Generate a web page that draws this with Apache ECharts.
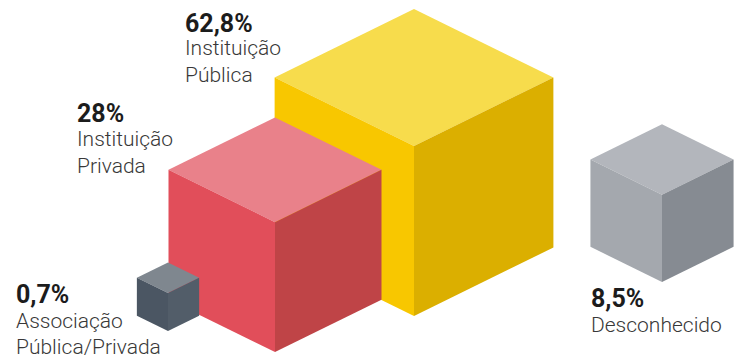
<!DOCTYPE html>
<html>
<head>
<meta charset="utf-8">
<script src="https://cdn.jsdelivr.net/npm/echarts@6/dist/echarts.min.js"></script>
<style>
html,body{margin:0;padding:0;background:#fff;}
#chart{width:735px;height:361px;}
</style>
</head>
<body>
<div id="chart"></div>
<script>
// ---- data ----
const categories = ['Instituição Pública', 'Instituição Privada', 'Associação Pública/Privada', 'Desconhecido'];
const values = [62.8, 28, 0.7, 8.5];
const valueLabels = ['62,8%', '28%', '0,7%', '8,5%'];
const nameLines = [['Instituição', 'Pública'], ['Instituição', 'Privada'], ['Associação', 'Pública/Privada'], ['Desconhecido']];

// ---- layout (positions in axis units, kept apart from data) ----
const cubeAnchors = [[414, 316], [275, 352], [168, 331], [662, 282]]; // front-bottom vertex
const labelAnchors = [[185, 23], [77, 113], [16, 294], [591, 298]];
const nameLineY = [[48, 75], [139, 166], [321, 347], [325]];
const EDGE_PER_CBRT = 42.77; // cube volume ∝ value
const palette = [
  {top: '#F7DC4C', left: '#F8C700', right: '#DBAF00'},
  {top: '#E9818A', left: '#E14E5A', right: '#BF4447'},
  {top: '#7F878F', left: '#4B5663', right: '#525D69'},
  {top: '#B3B6BC', left: '#A4A8AE', right: '#868B92'}
];

const chart = echarts.init(document.getElementById('chart'), null, {renderer: 'svg'});

function renderItem(params, api) {
  const i = api.value(0);
  const v = values[i];
  const base = api.coord(cubeAnchors[i]);
  const s = api.size([0, EDGE_PER_CBRT * Math.cbrt(v)])[1];
  const hw = 0.82 * s, rise = 0.403 * s;
  const bx = base[0], by = base[1];
  const C = [bx, by - s];
  const L = [bx - hw, by - s - rise];
  const R = [bx + hw, by - s - rise];
  const T = [bx, by - s - 2 * rise];
  const c = palette[i];
  const children = [
    {type: 'polygon', shape: {points: [C, L, T, R]}, style: {fill: c.top}},
    {type: 'polygon', shape: {points: [L, C, [bx, by], [bx - hw, by - rise]]}, style: {fill: c.left}},
    {type: 'polygon', shape: {points: [C, R, [bx + hw, by - rise], [bx, by]]}, style: {fill: c.right}}
  ];
  const lp = api.coord(labelAnchors[i]);
  children.push({
    type: 'text', x: lp[0], y: lp[1],
    style: {text: valueLabels[i], font: 'bold 25px Roboto', fill: '#1c1c1c',
      textAlign: 'left', textVerticalAlign: 'middle', align: 'left', verticalAlign: 'middle'}
  });
  nameLines[i].forEach(function (line, k) {
    const p = api.coord([labelAnchors[i][0], nameLineY[i][k]]);
    children.push({
      type: 'text', x: p[0], y: p[1],
      style: {text: line, font: '300 21px Roboto', fill: '#383838',
        textAlign: 'left', textVerticalAlign: 'middle', align: 'left', verticalAlign: 'middle'}
    });
  });
  return {type: 'group', children: children};
}

chart.setOption({
  animation: false,
  grid: {left: 0, right: 0, top: 0, bottom: 0},
  xAxis: {type: 'value', min: 0, max: 735, show: false},
  yAxis: {type: 'value', min: 0, max: 361, inverse: true, show: false},
  series: [{
    type: 'custom',
    name: 'Cubos',
    silent: true,
    renderItem: renderItem,
    data: categories.map(function (c, i) { return {name: c, value: [i]}; }),
    encode: {x: -1, y: -1}
  }]
});
</script>
</body>
</html>
